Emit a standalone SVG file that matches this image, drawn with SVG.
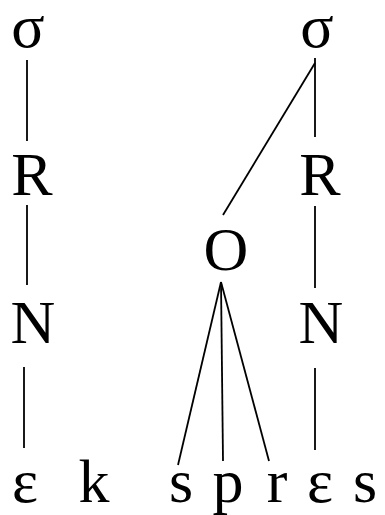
<svg xmlns="http://www.w3.org/2000/svg" width="385" height="515" viewBox="0 0 385 515">
<style>
text{font-family:"Liberation Serif","Times New Roman",serif;font-size:62px;fill:#000;text-anchor:middle}
line{stroke:#000;stroke-width:1.8}
</style>
<rect width="385" height="515" fill="#fff"/>
<g id="connectors">
<line x1="27" y1="60" x2="27" y2="141"/>
<line x1="27" y1="205" x2="27" y2="285"/>
<line x1="24" y1="367" x2="24" y2="448"/>
<line x1="315" y1="58" x2="315" y2="137"/>
<line x1="315" y1="63" x2="223" y2="215"/>
<line x1="315" y1="206" x2="315" y2="288"/>
<line x1="315" y1="368" x2="315" y2="450"/>
<line x1="221" y1="282" x2="178" y2="465"/>
<line x1="221" y1="282" x2="223" y2="461"/>
<line x1="221" y1="282" x2="269" y2="461"/>
</g>
<g id="sigma1"><text x="28" y="47">σ</text></g>
<g id="R1"><text x="32" y="195">R</text></g>
<g id="N1"><text x="33" y="343">N</text></g>
<g id="sigma2"><text x="317" y="47">σ</text></g>
<g id="R2"><text x="320" y="195">R</text></g>
<g id="N2"><text x="321" y="343">N</text></g>
<g id="O"><text x="226" y="270">O</text></g>
<g id="segments">
<text x="25" y="502">ε</text>
<text x="94" y="502">k</text>
<text x="181" y="502">s</text>
<text x="228" y="502">p</text>
<text x="277" y="502">r</text>
<text x="320" y="502">ε</text>
<text x="365" y="502">s</text>
</g>
</svg>
